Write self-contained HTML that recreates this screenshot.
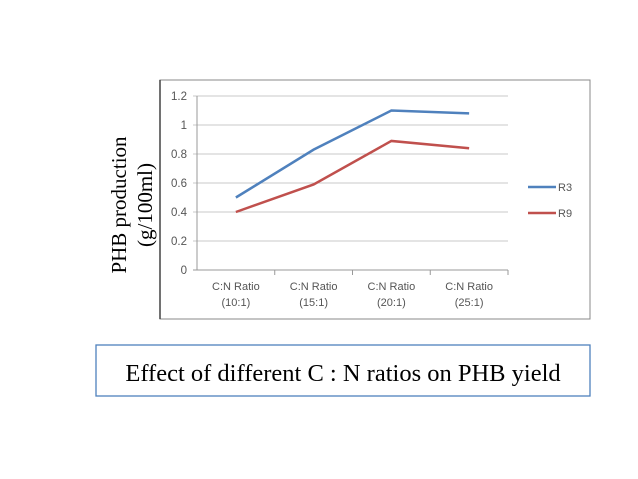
<!DOCTYPE html>
<html><head><meta charset="utf-8"><style>
body{margin:0;background:#fff;width:638px;height:479px;overflow:hidden;position:relative}
svg{position:absolute;left:0;top:0}
</style></head><body>
<svg width="638" height="479">
<rect x="160" y="80" width="430" height="239" fill="#fff" stroke="#888" stroke-width="1"/>
<line x1="160" y1="80" x2="160" y2="319" stroke="#444" stroke-width="1.5"/>
<g id="grid"></g>
<g id="series"></g>
<text x="126" y="205" transform="rotate(-90 126 205)" text-anchor="middle" font-family="Liberation Serif, serif" font-size="21" fill="#000">PHB production</text>
<text x="152" y="205" transform="rotate(-90 152 205)" text-anchor="middle" font-family="Liberation Serif, serif" font-size="21" fill="#000">(g/100ml)</text>
<g><line x1="528" y1="187" x2="556" y2="187" stroke="#4f81bd" stroke-width="2.5"/><text x="558" y="191" font-family="Liberation Sans, sans-serif" font-size="11" fill="#555">R3</text></g>
<g><line x1="528" y1="213" x2="556" y2="213" stroke="#c0504d" stroke-width="2.5"/><text x="558" y="217" font-family="Liberation Sans, sans-serif" font-size="11" fill="#555">R9</text></g>
<rect x="96" y="345" width="494" height="51" fill="#fff" stroke="#4f81bd" stroke-width="1.3"/>
<text x="343" y="381" text-anchor="middle" font-family="Liberation Serif, serif" font-size="24.5" fill="#000">Effect of different C : N ratios on PHB yield</text>
</svg>
<script>
const categories=["C:N Ratio|(10:1)","C:N Ratio|(15:1)","C:N Ratio|(20:1)","C:N Ratio|(25:1)"];
const r3Values=[0.5,0.83,1.1,1.08];
const r9Values=[0.4,0.59,0.89,0.84];
const yTicks=[0,0.2,0.4,0.6,0.8,1,1.2];
const yTickLabels=["0","0.2","0.4","0.6","0.8","1","1.2"];
const NS="http://www.w3.org/2000/svg";
const x0=197,x1=508,yb=270,yt=96;
const band=(x1-x0)/categories.length;
const X=i=>x0+band*(i+0.5);
const Y=v=>yb-(v/1.2)*(yb-yt);
const g=document.getElementById('grid'),s=document.getElementById('series');
function mk(tag,attrs,parent,txt){const e=document.createElementNS(NS,tag);for(const k in attrs)e.setAttribute(k,attrs[k]);if(txt!=null)e.textContent=txt;parent.appendChild(e);return e;}
yTicks.forEach((v,i)=>{
 const l=mk('line',{x1:x0-4,x2:x1,y1:Y(v),y2:Y(v),stroke:i==0?'#999':'#c8c8c8','stroke-width':1},g);
 
 
 const t=mk('text',{x:187,y:Y(v)+4,'text-anchor':'end','font-family':'Liberation Sans, sans-serif','font-size':11.5,fill:'#555'},g,yTickLabels[i]);
 
 
});
mk('line',{x1:x0,x2:x0,y1:yt,y2:yb,stroke:'#999'},g);
categories.forEach((c,i)=>{
 mk('line',{x1:x0+band*(i+1),x2:x0+band*(i+1),y1:yb,y2:yb+5,stroke:'#999'},g);
 const parts=c.split('|');
 parts.forEach((p,j)=>{
  const t=mk('text',{x:X(i),y:yb+20+j*16,'text-anchor':'middle','font-family':'Liberation Sans, sans-serif','font-size':11,fill:'#555'},g,p);
  
  
 });
});
[[r3Values,'#4f81bd','line-r3'],[r9Values,'#c0504d','line-r9']].forEach(([vals,col,name])=>{
 const p=mk('polyline',{points:vals.map((v,i)=>X(i)+','+Y(v)).join(' '),fill:'none',stroke:col,'stroke-width':2.5},s);
 
 
});
</script>
</body></html>
